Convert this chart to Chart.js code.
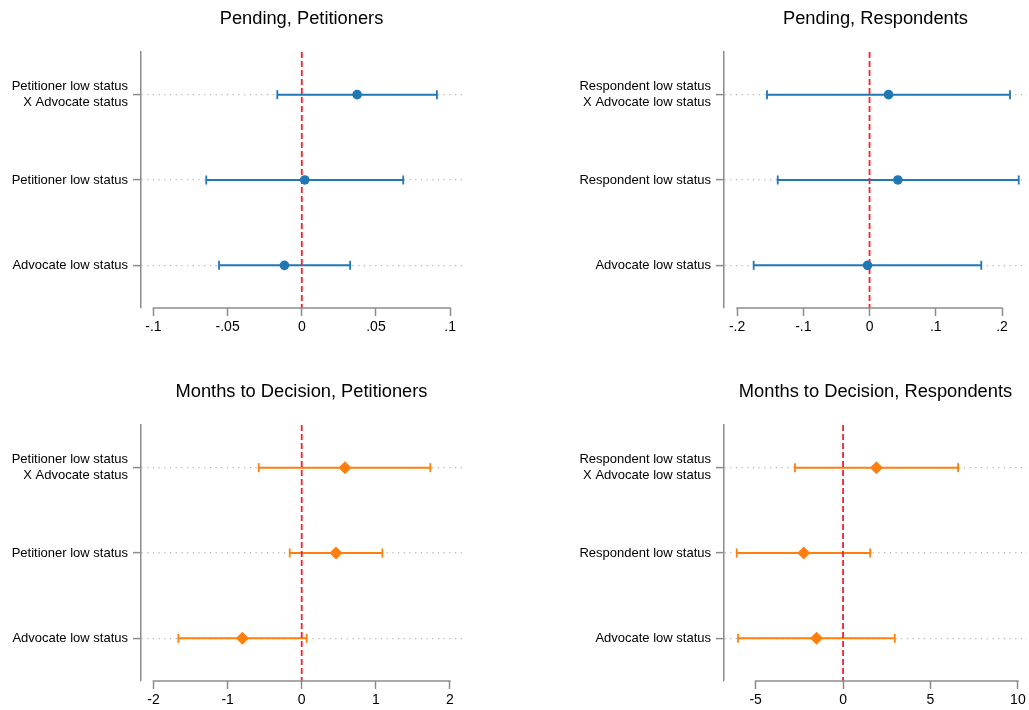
<!DOCTYPE html>
<html>
<head>
<meta charset="utf-8">
<script src="https://cdn.jsdelivr.net/npm/chart.js@4/dist/chart.umd.min.js"></script>
<style>
    body { margin: 0; background: #fff; overflow: hidden; }
    .panel { position: absolute; }
</style>
</head>
<body>
<div class="panel" style="left:0px; top:0px; width:515px; height:355px;"><canvas id="pendPet"></canvas></div>
<div class="panel" style="left:560px; top:0px; width:469px; height:355px;"><canvas id="pendRes"></canvas></div>
<div class="panel" style="left:0px; top:373px; width:515px; height:355px;"><canvas id="monPet"></canvas></div>
<div class="panel" style="left:560px; top:373px; width:469px; height:355px;"><canvas id="monRes"></canvas></div>
<script>
// row labels (top to bottom)
const petLabels = [['Petitioner low status', 'X Advocate status'], 'Petitioner low status', 'Advocate low status'];
const resLabels = [['Respondent low status', 'X Advocate low status'], 'Respondent low status', 'Advocate low status'];

// Pending, Petitioners
const pendPetCoef = [0.0373, 0.002, -0.0117];
const pendPetLo = [-0.0165, -0.0644, -0.0558];
const pendPetHi = [0.0911, 0.0684, 0.0326];
const pendPetTicks = [-0.1, -0.05, 0, 0.05, 0.1];
const pendPetTickText = ['-.1', '-.05', '0', '.05', '.1'];

// Pending, Respondents
const pendResCoef = [0.0287, 0.0428, -0.003];
const pendResLo = [-0.1548, -0.1386, -0.1749];
const pendResHi = [0.212, 0.2252, 0.1687];
const pendResTicks = [-0.2, -0.1, 0, 0.1, 0.2];
const pendResTickText = ['-.2', '-.1', '0', '.1', '.2'];

// Months to Decision, Petitioners
const monPetCoef = [0.584, 0.463, -0.801];
const monPetLo = [-0.58, -0.162, -1.665];
const monPetHi = [1.736, 1.088, 0.067];
const monPetTicks = [-2, -1, 0, 1, 2];
const monPetTickText = ['-2', '-1', '0', '1', '2'];

// Months to Decision, Respondents
const monResCoef = [1.91, -2.25, -1.52];
const monResLo = [-2.75, -6.08, -6.01];
const monResHi = [6.58, 1.55, 2.96];
const monResTicks = [-5, 0, 5, 10];
const monResTickText = ['-5', '0', '5', '10'];

const FONT = "'Liberation Sans', Arial, sans-serif";
const AXIS_GRAY = '#8c8c8c';
const BLUE = '#1f77b4';
const ORANGE = '#ff7f0e';

// x axis line only spans first..last tick, like the original
const xAxisLine = {
    id: 'xAxisLine',
    afterDraw(chart) {
        const sx = chart.scales.x;
        const ticks = sx.ticks;
        if (!ticks.length) return;
        const ctx = chart.ctx;
        const y = chart.chartArea.bottom;
        ctx.save();
        ctx.strokeStyle = AXIS_GRAY;
        ctx.lineWidth = 1.5;
        ctx.beginPath();
        ctx.moveTo(sx.getPixelForValue(ticks[0].value) - 0.75, y);
        ctx.lineTo(sx.getPixelForValue(ticks[ticks.length - 1].value) + 0.75, y);
        ctx.stroke();
        ctx.restore();
    }
};

function makePanel(id, title, labels, coef, lo, hi, color, marker, markerRadius, xMin, xMax, tickVals, tickText, axisWidth, padRight) {
    const datasets = [];
    // confidence interval lines
    coef.forEach((c, i) => {
        datasets.push({
            type: 'line',
            data: [{x: lo[i], y: i + 1}, {x: hi[i], y: i + 1}],
            borderColor: color,
            borderWidth: 2,
            pointRadius: 0,
            showLine: true,
            order: 4
        });
    });
    // zero reference line
    datasets.push({
        type: 'line',
        data: [{x: 0, y: 0.5}, {x: 0, y: 3.5}],
        borderColor: '#f5222d',
        borderWidth: 1.8,
        borderDash: [6, 3],
        pointRadius: 0,
        showLine: true,
        order: 3
    });
    // caps
    const caps = [];
    coef.forEach((c, i) => {
        caps.push({x: lo[i], y: i + 1});
        caps.push({x: hi[i], y: i + 1});
    });
    datasets.push({
        type: 'scatter',
        data: caps,
        pointStyle: 'line',
        rotation: 90,
        pointRadius: 4.5,
        borderColor: color,
        borderWidth: 1.8,
        order: 2
    });
    // point estimates
    datasets.push({
        type: 'scatter',
        data: coef.map((c, i) => ({x: c, y: i + 1})),
        pointStyle: marker,
        pointRadius: markerRadius,
        backgroundColor: color,
        borderColor: color,
        borderWidth: 0,
        order: 1
    });

    new Chart(document.getElementById(id), {
        type: 'scatter',
        data: {datasets: datasets},
        plugins: [xAxisLine],
        options: {
            responsive: true,
            maintainAspectRatio: false,
            animation: false,
            events: [],
            layout: {autoPadding: false, padding: {left: 0, right: padRight, top: 0, bottom: 7}},
            plugins: {
                legend: {display: false},
                tooltip: {enabled: false},
                title: {
                    display: true,
                    text: title,
                    fullSize: false,
                    color: '#000',
                    font: {family: FONT, size: 18.3, weight: 'normal', lineHeight: 1.2},
                    padding: {top: 8, bottom: 22}
                }
            },
            scales: {
                x: {
                    type: 'linear',
                    min: xMin,
                    max: xMax,
                    afterBuildTicks: s => { s.ticks = tickVals.map(v => ({value: v})); },
                    afterFit: s => { s.height = 40; s.paddingLeft = 0; s.paddingRight = 0; },
                    border: {display: false},
                    grid: {
                        display: true,
                        drawOnChartArea: false,
                        drawTicks: true,
                        tickLength: 8,
                        tickColor: AXIS_GRAY,
                        tickWidth: 1.5
                    },
                    ticks: {
                        color: '#000',
                        padding: 3,
                        maxRotation: 0,
                        autoSkip: false,
                        font: {family: FONT, size: 14},
                        callback: (v) => {
                            const k = tickVals.findIndex(t => Math.abs(t - v) < 1e-9);
                            return k >= 0 ? tickText[k] : '';
                        }
                    }
                },
                y: {
                    type: 'linear',
                    min: 0.5,
                    max: 3.5,
                    reverse: true,
                    afterBuildTicks: s => { s.ticks = [1, 2, 3].map(v => ({value: v})); },
                    afterFit: s => { s.width = axisWidth; },
                    border: {display: true, color: AXIS_GRAY, width: 1.5, dash: [1.2, 4.5]},
                    grid: {
                        display: true,
                        drawOnChartArea: true,
                        drawTicks: true,
                        color: '#b4b4b4',
                        lineWidth: 1.2,
                        tickLength: 8,
                        tickColor: AXIS_GRAY,
                        tickWidth: 1.5
                    },
                    ticks: {
                        color: '#000',
                        padding: 5,
                        autoSkip: false,
                        font: {family: FONT, size: 13, lineHeight: 1.2},
                        callback: (v) => labels[Math.round(v) - 1]
                    }
                }
            }
        }
    });
}

makePanel('pendPet', 'Pending, Petitioners', petLabels, pendPetCoef, pendPetLo, pendPetHi,
    BLUE, 'circle', 4.8, -0.1084, 0.108, pendPetTicks, pendPetTickText, 141, 53);
makePanel('pendRes', 'Pending, Respondents', resLabels, pendResCoef, pendResLo, pendResHi,
    BLUE, 'circle', 4.8, -0.2197, 0.2377, pendResTicks, pendResTickText, 164, 2);
makePanel('monPet', 'Months to Decision, Petitioners', petLabels, monPetCoef, monPetLo, monPetHi,
    ORANGE, 'rectRot', 6.5, -2.169, 2.163, monPetTicks, monPetTickText, 141, 53);
makePanel('monRes', 'Months to Decision, Respondents', resLabels, monResCoef, monResLo, monResHi,
    ORANGE, 'rectRot', 6.5, -6.81, 10.52, monResTicks, monResTickText, 164, 2);
</script>
</body>
</html>
